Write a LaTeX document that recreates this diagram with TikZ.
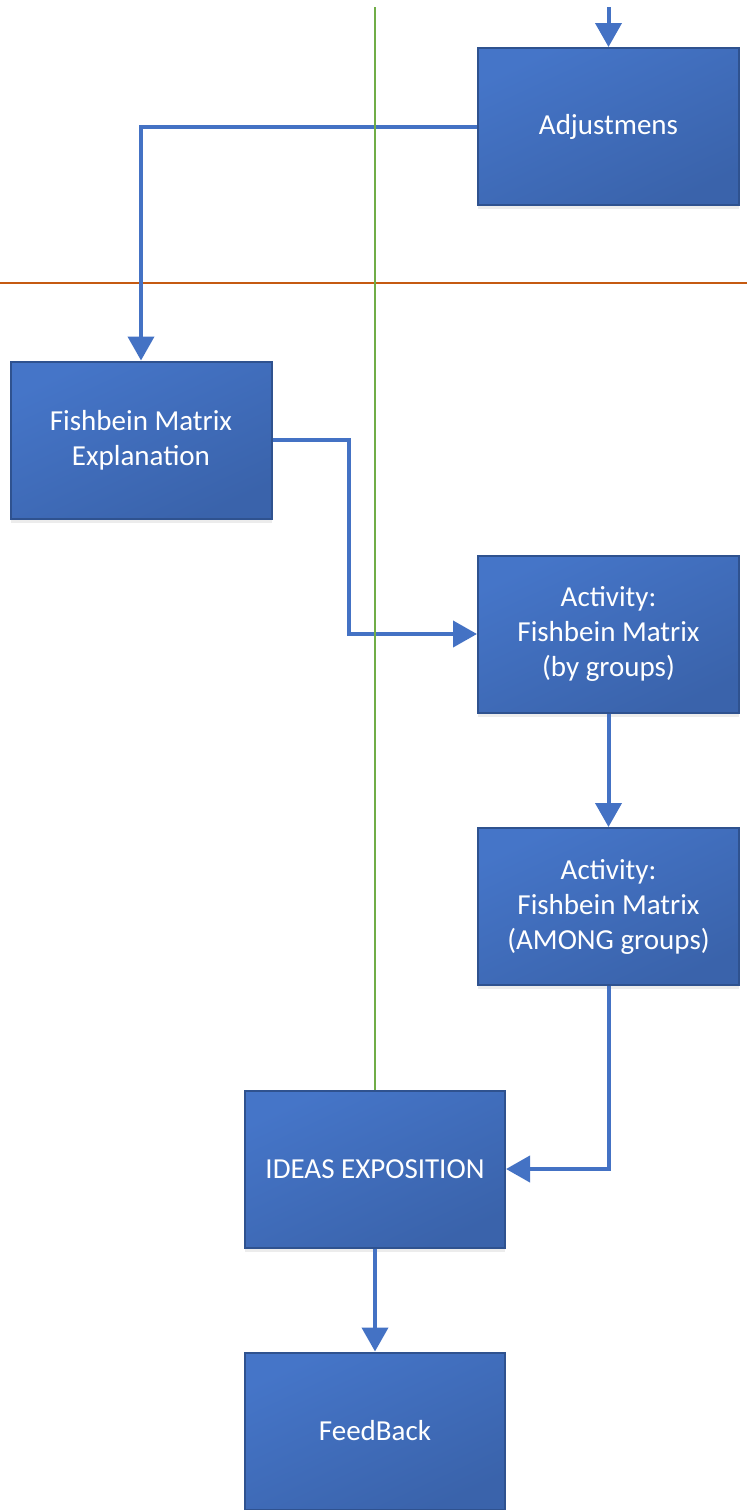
\documentclass[tikz,border=0pt]{standalone}
\usepackage{fontspec}
\setmainfont{Carlito}
\usetikzlibrary{arrows.meta,shadows}
\definecolor{boxtop}{HTML}{4575C8}
\definecolor{boxbot}{HTML}{3A63AB}
\definecolor{boxedge}{HTML}{2F528F}
\definecolor{flow}{HTML}{4472C4}
\definecolor{laneV}{HTML}{70AD47}
\definecolor{laneH}{HTML}{C55A11}
\tikzset{
  stepbox/.style={rectangle, draw=boxedge, line width=2pt,
    top color=boxtop, bottom color=boxbot, shading angle=25,
    minimum width=261pt, minimum height=157pt, inner sep=0pt,
    text=white, align=center,
    font=\fontsize{29}{35}\selectfont,
    drop shadow={opacity=0.15, shadow xshift=0pt, shadow yshift=-4pt}},
  flowline/.style={draw=flow, line width=4pt,
    -{Triangle[width=26pt,length=24pt]}},
  laneline/.style={line width=2.6pt}
}
\begin{document}
\begin{tikzpicture}[x=1pt,y=-1pt]
\useasboundingbox (0,0) rectangle (747,1510);

% lane separators
\draw[laneline, draw=laneH] (0,283) -- (747,283);

% process steps
\node[stepbox] (adj) at (608.5,126.5) {Adjustmens};
\node[stepbox] (expl) at (141,440) {Fishbein Matrix\\Explanation};
\node[stepbox] (act1) at (608.5,634) {Activity:\\Fishbein Matrix\\(by groups)};
\node[stepbox] (act2) at (608.5,906.5) {Activity:\\Fishbein Matrix\\(AMONG groups)};
\node[stepbox, minimum width=260pt] (ideas) at (375,1169) {IDEAS EXPOSITION};
\node[stepbox, minimum width=260pt] (feed) at (375,1431) {FeedBack};

% incoming flow from above
\coordinate (in) at (608.5,7);

% connectors
\draw[flowline] (in) -- (adj.north);
\draw[flowline] (adj.west) -| (expl.north);
\draw[flowline] (expl.east) -- (349,440) |- (act1.west);
\draw[flowline] (act1.south) -- (act2.north);
\draw[flowline] (act2.south) |- (ideas.east);
\draw[flowline] (ideas.south) -- (feed.north);

% vertical lane separator
\draw[laneline, draw=laneV] (375,7) -- (ideas.north);
\end{tikzpicture}
\end{document}
